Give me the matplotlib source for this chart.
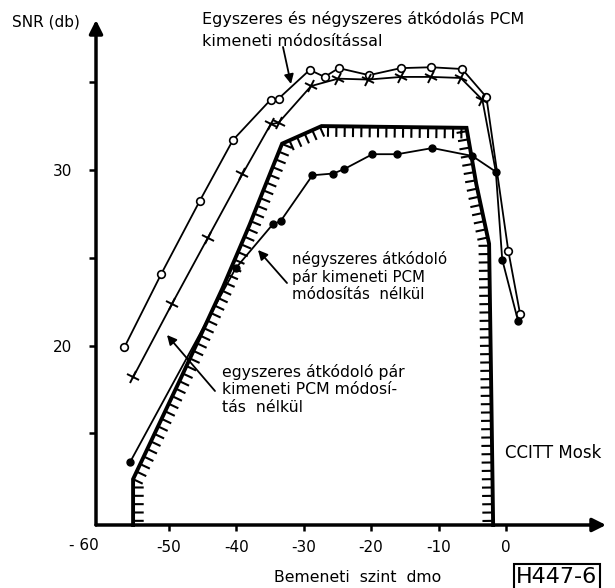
import matplotlib
matplotlib.use("Agg")
import matplotlib.pyplot as plt
import matplotlib.patheffects as pe
from matplotlib.markers import MarkerStyle
from matplotlib.transforms import Affine2D

# --- data -------------------------------------------------------------
circ_x = [-56.6, -51.1, -45.4, -40.5, -34.9, -33.7, -29.1, -26.9, -24.8, -20.3,
          -15.6, -11.1, -6.5, -2.9, 0.35, 2.1]
circ_y = [19.9, 24.1, 28.25, 31.7, 34.0, 34.07, 35.7, 35.3, 35.8, 35.4,
          35.8, 35.85, 35.75, 34.15, 25.4, 21.8]

cross_x = [-55.3, -49.5, -44.2, -39.1, -34.9, -33.7, -28.9, -24.9, -20.4, -15.5,
           -11.1, -6.7, -3.5, -1.5]
cross_y = [18.2, 22.4, 26.15, 29.75, 32.6, 32.7, 34.78, 35.2, 35.15, 35.3,
           35.3, 35.24, 34.0, 29.9]

dot_x = [-55.7, -40.1, -34.6, -33.4, -28.7, -25.6, -24.0, -19.8, -16.1, -10.9,
         -5.0, -1.5, -0.55, 1.8]
dot_y = [13.4, 24.4, 26.9, 27.1, 29.7, 29.8, 30.05, 30.9, 30.9, 31.25,
         30.8, 29.9, 24.9, 21.4]

mask_x = [-55.3, -55.3, -48.4, -42.0, -38.0, -35.5, -33.2, -27.35, -5.85, -4.4, -2.5, -2.2, -1.9]
mask_y = [9.79, 12.4, 18.0, 23.3, 26.9, 29.3, 31.5, 32.5, 32.4, 29.2, 25.8, 18.0, 9.79]

xticks = [-50, -40, -30, -20, -10, 0]
xtick_labels = ["-50", "-40", "-30", "-20", "-10", "0"]
yticks = [15, 20, 25, 30, 35]
ytick_labels = ["", "20", "", "30", ""]

# --- figure -----------------------------------------------------------
W, H = 615, 588
fig = plt.figure(figsize=(W / 100, H / 100), dpi=100)
plt.rcParams['font.family'] = ['DejaVu Sans']

L, R, B, T = 96, 606, 525, 20
ax = fig.add_axes([L / W, 1 - B / H, (R - L) / W, (B - T) / H])
ax.set_xlim(-60.8, 14.84)
ax.set_ylim(9.79, 38.54)
for s in ax.spines.values():
    s.set_visible(False)

# axes with arrows
ax.annotate('', xy=(1.0, 0.0), xytext=(0.0, 0.0), xycoords='axes fraction',
            arrowprops=dict(arrowstyle='-|>', lw=2.5, color='k', mutation_scale=20,
                            shrinkA=0, shrinkB=0))
ax.annotate('', xy=(0.0, 1.0), xytext=(0.0, 0.0), xycoords='axes fraction',
            arrowprops=dict(arrowstyle='-|>', lw=2.5, color='k', mutation_scale=20,
                            shrinkA=0, shrinkB=0))

ax.set_xticks(xticks)
ax.set_xticklabels(xtick_labels)
ax.set_yticks(yticks)
ax.set_yticklabels(ytick_labels)
ax.tick_params(axis='x', direction='out', length=4, width=1.8, pad=7, labelsize=11)
ax.tick_params(axis='y', direction='out', length=5, width=1.8, pad=12, labelsize=11)
ax.text(-62.6, 9.79 - 21 / 17.57, "- 60", ha='center', va='center',
        fontsize=11, clip_on=False)

# CCITT mask with hatching
ax.plot(mask_x, mask_y, color='k', lw=2.8, solid_joinstyle='miter',
        path_effects=[pe.withTickedStroke(angle=-90, spacing=6.0, length=1.15,
                                          linewidth=1.5)], zorder=3, clip_on=False)

# data series
ax.plot(circ_x, circ_y, color='k', lw=1.3, marker='o', ms=5.5, mfc='white',
        mec='k', mew=1.2, zorder=4)
cross_m = MarkerStyle('+', transform=Affine2D().rotate_deg(-28))
ax.plot(cross_x, cross_y, color='k', lw=1.3, marker=cross_m, ms=9, mew=1.4, zorder=4,
        markevery=list(range(len(cross_x) - 1)))
ax.plot(dot_x, dot_y, color='k', lw=1.3, marker='o', ms=5, mfc='k', mec='k', zorder=5)

# --- texts ------------------------------------------------------------
def ftxt(x, y, s, **kw):
    fig.text(x / W, 1 - y / H, s, **kw)

ftxt(12, 22, "SNR (db)", fontsize=11, va='center', ha='left')
ftxt(202, 19, "Egyszeres és négyszeres átkódolás PCM", fontsize=11.5, va='center', ha='left')
ftxt(202, 41, "kimeneti módosítással", fontsize=11.5, va='center', ha='left')
ftxt(292, 259, "négyszeres átkódoló", fontsize=10.8, va='center', ha='left')
ftxt(292, 277, "pár kimeneti PCM", fontsize=10.8, va='center', ha='left')
ftxt(292, 295, "módosítás  nélkül", fontsize=10.8, va='center', ha='left')
ftxt(222, 372, "egyszeres átkódoló pár", fontsize=11.3, va='center', ha='left')
ftxt(222, 390, "kimeneti PCM módosí-", fontsize=11.3, va='center', ha='left')
ftxt(222, 408, "tás  nélkül", fontsize=11.3, va='center', ha='left')
ftxt(505, 453, "CCITT Mosk", fontsize=12, va='center', ha='left')
ftxt(358, 578, "Bemeneti  szint  dmo", fontsize=11.3, va='center', ha='center')
ftxt(557, 577, "H447-6", fontsize=16, va='center', ha='center',
     bbox=dict(boxstyle='square,pad=0.12', fc='white', ec='k', lw=1.5))

# annotation arrows (figure pixel coordinates)
def farrow(x0, y0, x1, y1):
    fig.add_artist(matplotlib.patches.FancyArrowPatch(
        (x0 / W, 1 - y0 / H), (x1 / W, 1 - y1 / H), transform=fig.transFigure,
        arrowstyle='-|>', mutation_scale=14, lw=1.3, color='k',
        shrinkA=0, shrinkB=0))

farrow(283, 47, 291, 84)
farrow(287, 283, 258, 250)
farrow(215, 391, 167, 335)

fig.savefig("out.png", dpi=100)
